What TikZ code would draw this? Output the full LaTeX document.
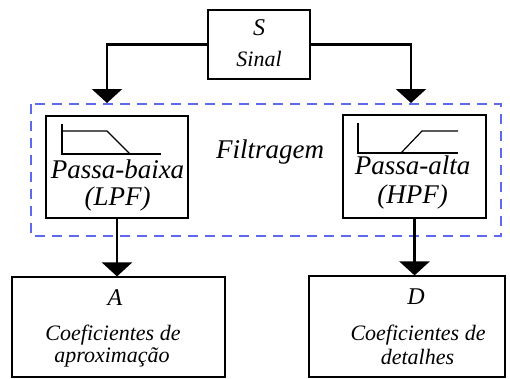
\documentclass[tikz,border=0pt]{standalone}
\usepackage{fontspec}
\setmainfont{Liberation Serif}
\usetikzlibrary{arrows.meta,positioning}
\definecolor{fltblue}{RGB}{95,105,235}

\begin{document}
\begin{tikzpicture}[x=1pt,y=-1pt,
  box/.style={draw,line width=1.2pt,inner sep=0pt},
  conn/.style={line width=2.6pt,-{Triangle[width=30pt,length=14pt]}},
  big/.style={inner sep=0pt,font=\itshape\fontsize{27}{29}\selectfont},
  mid/.style={inner sep=0pt,font=\itshape\fontsize{24}{26}\selectfont},
  small/.style={inner sep=0pt,font=\itshape\fontsize{22}{24}\selectfont}]
  \useasboundingbox (0,0) rectangle (510,378);
  % Signal box
  \node[box,line width=2.4pt,minimum width=102pt,minimum height=69pt] (S) at (259,44.5) {};
  \node[mid] (Sname) at (259,28) {S};
  \node[small] (Sinal) at (259,59) {Sinal};
  % Filter stage
  \draw[fltblue,line width=1.3pt,dash pattern=on 10pt off 7pt] (31,104) rectangle (501,236);
  \node[big] (filt) at (270,152) {Filtragem};
  \node[box,minimum width=142pt,minimum height=102pt] (LPF) at (117,167) {};
  \node[box,minimum width=143pt,minimum height=103pt] (HPF) at (414.5,166.5) {};
  \node[big] (lpfa) at (117.5,169.5) {Passa-baixa};
  \node[big] (lpfb) at (117.5,199.5) {(LPF)};
  \node[big] (hpfa) at (412.5,165) {Passa-alta};
  \node[big] (hpfb) at (412.5,197) {(HPF)};
  % filter icons
  \draw[line width=1.2pt] (62,124) -- (62,154) -- (161,154);
  \draw[line width=1.2pt] (62,131) -- (107,131) -- (130,154);
  \draw[line width=1.2pt] (358,123) -- (358,153) -- (458,153);
  \draw[line width=1.2pt] (401,153) -- (422,131) -- (458,131);
  % Coefficient boxes
  \node[box,minimum width=213pt,minimum height=100pt] (A) at (118.5,327) {};
  \node[box,minimum width=196pt,minimum height=101pt] (D) at (407,326.5) {};
  \node[mid] (Aname) at (115,298) {A};
  \node[small] (Aa) at (113,335) {Coeficientes de};
  \node[small] (Ab) at (112,357) {aproximação};
  \node[mid] (Dname) at (416,297) {D};
  \node[small] (Da) at (418,335) {Coeficientes de};
  \node[small] (Db) at (417.5,357) {detalhes};
  % Connectors
  \coordinate (lin) at (107,103);
  \coordinate (hin) at (411,103);
  \draw[conn] (S.west) -| (lin);
  \draw[conn] (S.east) -| (hin);
  \draw[conn] (LPF.south) -- (LPF.south |- A.north);
  \draw[conn] (HPF.south) -- (HPF.south |- D.north);
\end{tikzpicture}
\end{document}
